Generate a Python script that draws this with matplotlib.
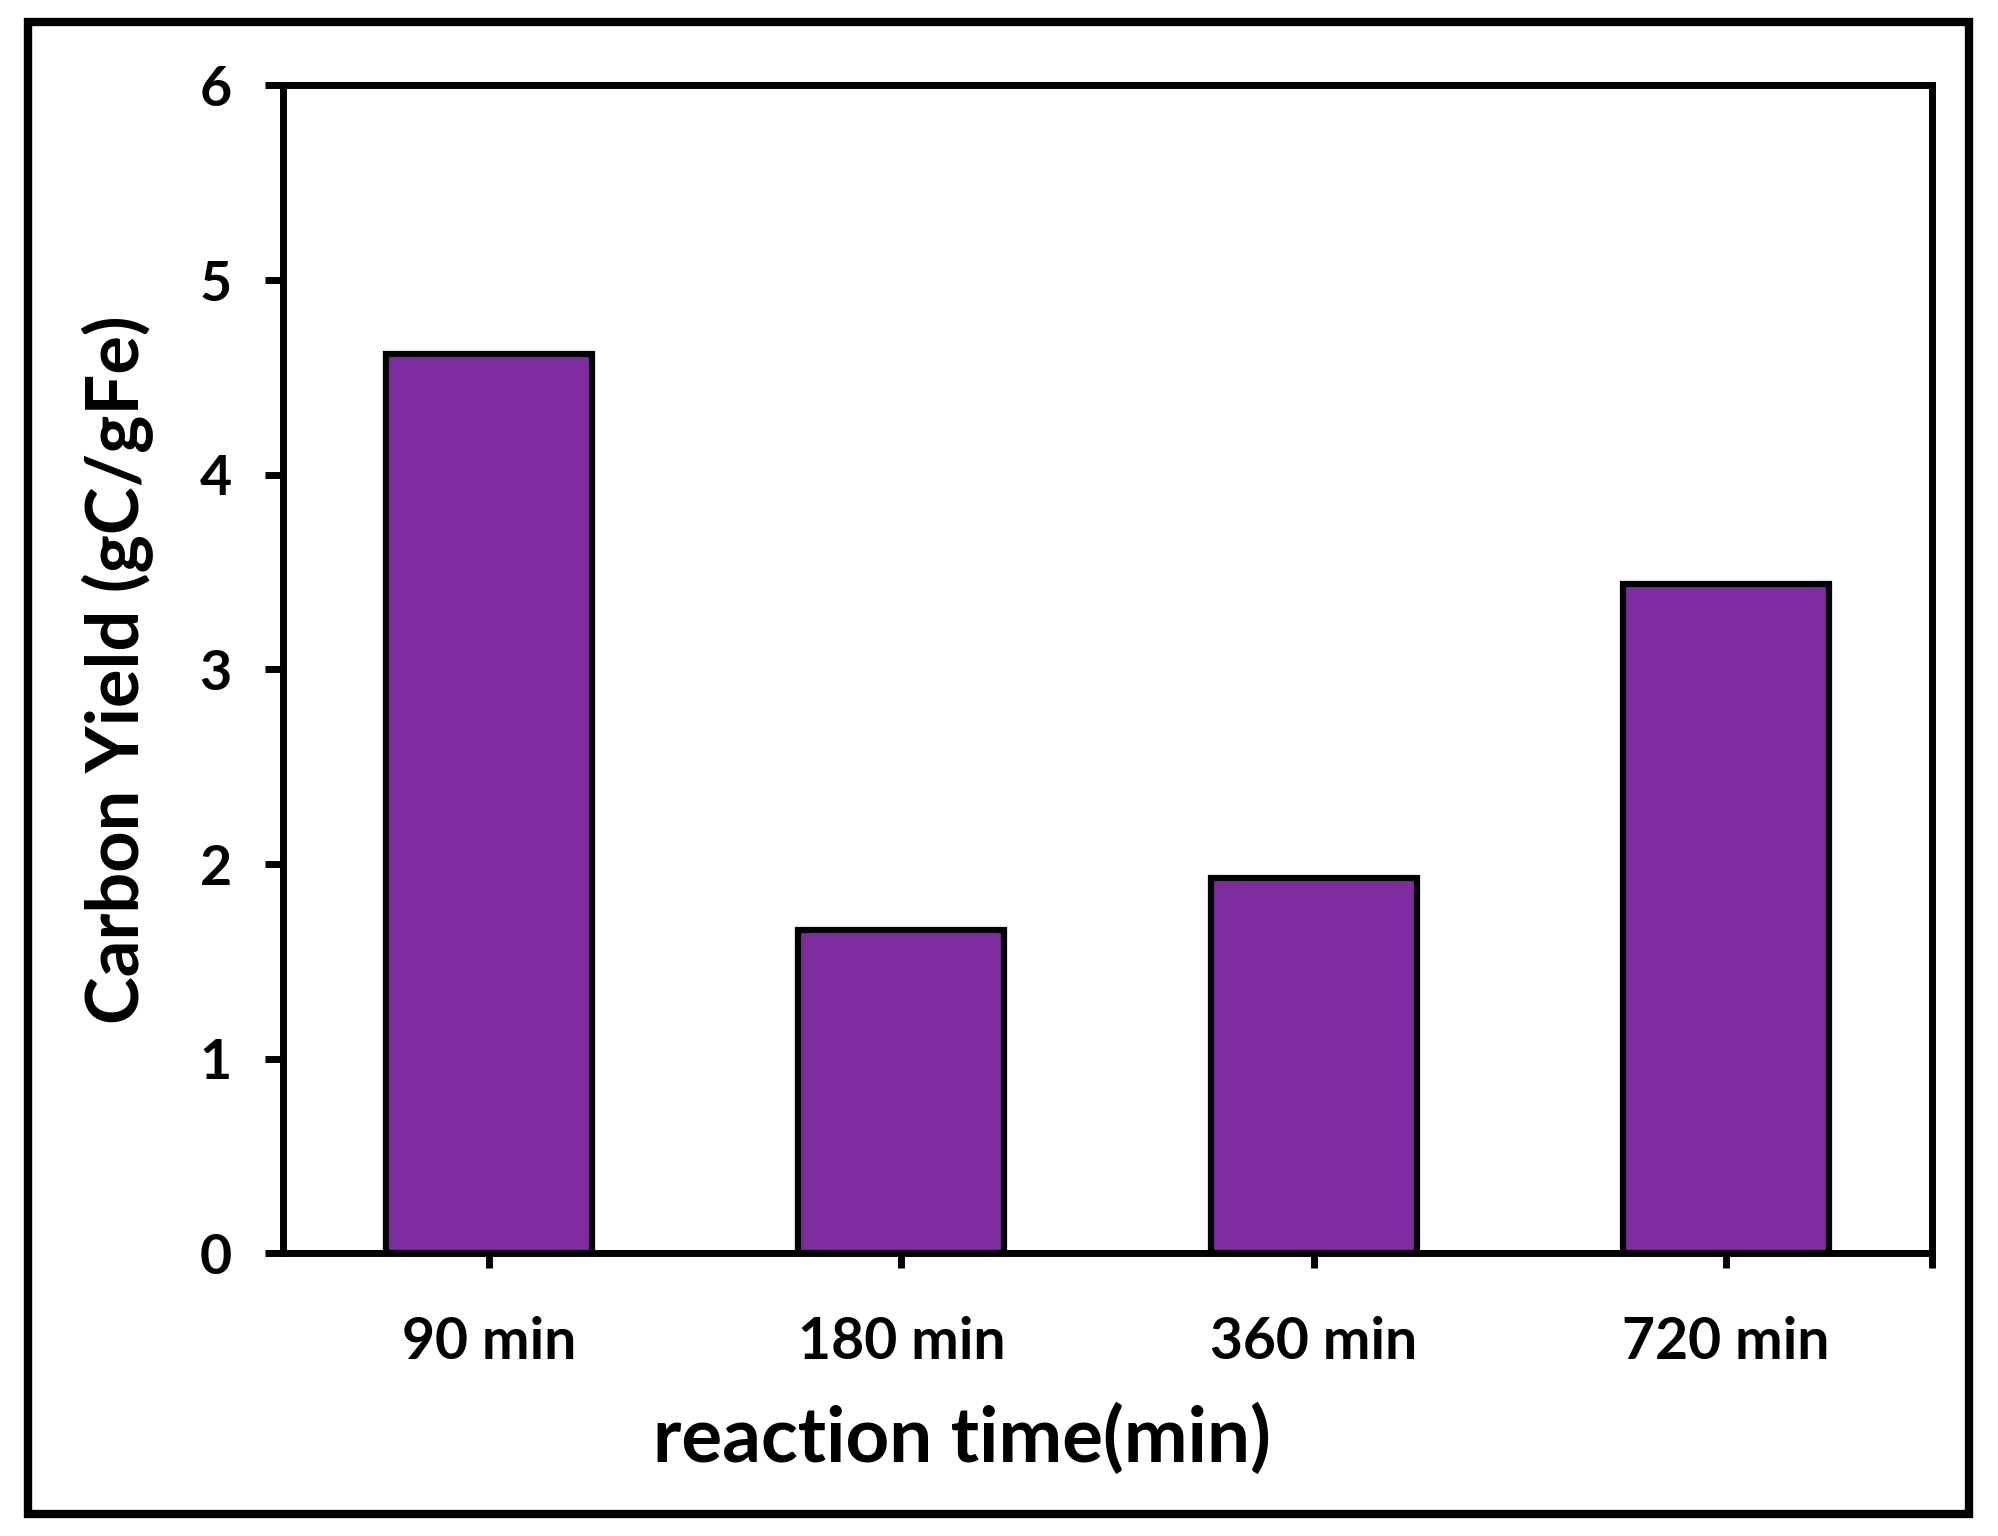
import matplotlib
matplotlib.use("Agg")
import matplotlib.pyplot as plt
from matplotlib.patches import Rectangle
import numpy as np

categories = ["90 min", "180 min", "360 min", "720 min"]
carbon_yield = [4.62, 1.66, 1.93, 3.44]
y_ticks = [0, 1, 2, 3, 4, 5, 6]

BAR_COLOR = "#7F2CA0"

plt.rcParams['font.family'] = ['Lato', 'DejaVu Sans']
plt.rcParams['font.weight'] = 'bold'


def main():
	fig = plt.figure(figsize=(19.99, 15.36), dpi=100)
	ax = fig.add_axes([0.1416, 0.184, 0.8249, 0.7604])

	x = np.arange(len(categories))
	ax.bar(x, carbon_yield, width=0.5, color=BAR_COLOR, edgecolor="black", linewidth=4.5, zorder=2)

	ax.set_xlim(-0.5, len(categories) - 0.5)
	ax.set_ylim(0, 6)
	ax.set_yticks(y_ticks)
	ax.set_xticks(list(x) + [len(categories) - 0.5])
	ax.set_xticklabels(categories + [""])

	for s in ax.spines.values():
		s.set_linewidth(5)
	ax.tick_params(axis="y", direction="out", length=13, width=5, pad=24, labelsize=40)
	ax.tick_params(axis="x", direction="out", length=11, width=5, pad=34, labelsize=41)
	for lab in ax.get_xticklabels() + ax.get_yticklabels():
		lab.set_fontweight("bold")

	ax.set_ylabel("Carbon Yield (gC/gFe)", fontsize=52, fontweight="bold")
	ax.yaxis.set_label_coords(-0.078, 0.5)
	ax.set_xlabel("reaction time(min)", fontsize=55, fontweight="bold")
	ax.xaxis.set_label_coords(0.412, -0.128)

	# outer border around the whole chart
	fig.patches.append(Rectangle((0.014, 0.014), 0.971, 0.972, transform=fig.transFigure,
		fill=False, edgecolor="black", linewidth=6))

	fig.savefig("out.png", dpi=100)


if __name__ == '__main__':
	main()
